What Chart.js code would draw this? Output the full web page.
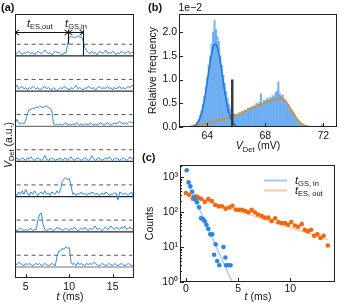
<!DOCTYPE html>
<html><head><meta charset="utf-8">
<script src="https://cdn.jsdelivr.net/npm/chart.js@4.4.1/dist/chart.umd.min.js"></script>
<style>
html,body{margin:0;padding:0;background:#fff;}
#wrap{position:relative;width:339px;height:304px;overflow:hidden;background:#fff;}
canvas{position:absolute;left:0;top:0;}
</style></head><body>
<div id="wrap">
<canvas id="ca" width="339" height="304"></canvas>
<canvas id="cb" width="339" height="304"></canvas>
<canvas id="cc" width="339" height="304"></canvas>
</div>
<script>
// ================= DATA =================
// (a) single-shot traces, V_Det (a.u.) relative to each trace baseline; threshold level = 1
const traceTimes = [3.8,4.0,4.2,4.4,4.6,4.8,5.0,5.2,5.4,5.6,5.8,6.0,6.2,6.4,6.6,6.8,7.0,7.2,7.4,7.6,7.8,8.0,8.2,8.4,8.6,8.8,9.0,9.2,9.4,9.6,9.8,10.0,10.2,10.4,10.6,10.8,11.0,11.2,11.4,11.6,11.8,12.0,12.2,12.4,12.6,12.8,13.0,13.2,13.4,13.6,13.8,14.0,14.2,14.4,14.6,14.8,15.0,15.2,15.4,15.6,15.8,16.0,16.2,16.4,16.6,16.8,17.0,17.2,17.4];
const trace1 = [0.3,0.2,0.4,0.3,0.1,0.3,0.2,0.4,0.3,0.2, 0.3,0.1,0.2,0.4,0.3,0.2,0.3,0.5,0.3,0.2, 0.3,0.1,0.2,0.4,0.3,0.3,0.2,0.1,0.3,0.2, 0.9,
  1.6,1.65,1.6,1.55,1.62,1.7,1.6,1.65, 1.3,0.7,0.45,
  0.3,0.2,0.4,0.2,0.3,0.1,0.3,0.4,0.2,0.3, 0.5,0.2,0.3,0.2,0.4,0.3,0.1,0.3,0.2,0.4, 0.3,0.2,0.3,0.4,0.2,0.3,0.3];
const trace2 = [0.3,0.5,0.2,0.3,0.4,0.2,0.3,0.1,0.3,0.2, 0.4,0.3,0.2,0.3,0.1,0.2,0.3,0.4,0.2,0.3, 0.2,0.1,0.3,0.2,0.0,0.2,0.3,0.2,0.4,0.3,
  0.2,0.1,0.3,0.2,0.3,0.5,0.2,0.3,0.2,0.1, 0.3,0.2,0.4,0.3,0.2,0.3,0.1,0.2,0.4,0.3, 0.2,0.3,0.2,0.4,0.2,0.3,0.1,0.3,0.2,0.3, 0.4,0.2,0.3,0.2,0.3,0.4,0.3,0.5,0.4];
const trace3 = [0.3,0.6,0.3,0.2,0.3,0.2,0.5,1.1,1.4,1.45,1.55,1.5,1.65,1.6,1.7,1.65,1.6,1.7,1.75,1.6,1.55,1.35,0.2,0.1,
  0.2,0.1,0.2,0.1,0.2,0.3,0.1,0.2,0.1,0.2, 0.1,0.3,0.2,0.1,0.2,0.1,0.2,0.2,0.1,0.3, 0.2,0.1,0.2,0.1,0.2,0.3,0.2,0.1,0.2,0.3,
  0.2,0.1,0.2,0.3,0.2,0.3,0.4,0.3,0.2,0.3, 0.2,0.3,0.4,0.3,0.3];
const trace4 = [0.2,0.3,0.1,0.2,0.3,0.2,0.1,0.3,0.2,0.4, 0.2,0.1,0.2,0.3,0.2,0.1,0.2,0.5,0.2,0.1, 0.2,0.3,0.2,0.1,0.2,0.2,0.3,0.1,0.2,0.3,
  0.1,0.2,0.4,0.2,0.1,0.2,0.3,0.2,0.1,0.2, 0.3,0.2,0.1,0.2,0.5,0.2,0.1,0.2,0.3,0.2, 0.1,0.2,0.3,0.2,0.4,0.2,0.1,0.2,0.3,0.2, 0.1,0.2,0.3,0.2,0.1,0.2,0.4,0.2,0.3];
const trace5 = [0.3,0.1,0.4,0.2,0.5,0.2,0.6,0.3,0.1,0.4, 0.2,0.5,0.3,0.1,0.3,0.4,0.2,0.5,0.2,0.3, 0.1,0.4,0.3,0.2,0.5,0.3,
  0.6,1.3,1.5,1.6,1.45,1.55,1.0,0.2,
  0.3,0.1,0.3,0.2,0.4,0.2,0.3,0.1,0.3,0.2, 0.4,0.3,0.2,0.3,0.1,0.2,0.3,0.2,0.4,0.3, 0.1,0.2,0.2,0.3,0.3,-0.3,0.4,0.3,0.2,0.3, 0.2,0.1,0.3,0.4,-0.2];
const trace6 = [0.2,0.1,0.2,0.3,0.2,0.1,0.2,0.1,0.2,0.3,0.1,0.2,0.2,
  1.0,1.5,1.6,0.6,0.2,
  0.1,0.2,0.3,0.2,0.1,0.2,0.4,0.2,0.3,0.1, 0.2,0.3,0.2,0.1,0.3,0.2,0.4,0.2,0.1,0.2, 0.3,0.2,0.4,0.2,0.1,0.3,0.2,0.3,0.5,0.2,
  0.3,0.2,0.1,0.3,0.4,0.2,0.3,0.5,0.3,0.2, 0.4,0.3,0.2,0.4,0.3,0.5,0.2,0.3,0.4,0.2, 0.3];
const trace7 = [0.3,0.2,0.4,0.3,0.2,0.1,0.3,0.2,0.3,0.2,0.1,0.2,0.3,0.2,0.3,0.1,0.2,0.3,0.2,0.1,0.2,0.3,0.2,0.1,
  0.9,1.35,1.4,1.6,1.5,1.7,1.6,1.65,0.5,
  0.2,0.3,0.1,0.4,0.2,0.3,0.2,0.1,0.3,0.2, 0.3,0.2,0.4,0.3,0.2,0.1,0.2,0.3,0.2,0.1, 0.2,0.3,0.2,0.1,0.3,0.2,0.1,0.2,0.3,0.2, 0.1,0.2,0.3,0.2,0.1,0.2];
const traceTicksX = [5,10,15];
const esOutMarkT = 9.9;   // end of t_ES,out arrow
const gsInMarkT = 11.6;   // end of t_GS,in arrow

// (b) histogram of V_Det (relative frequency, x1e-2)
const histStart = 62.9, histBinWidth = 0.1;
const histFreq = [0.01,0.02,0.03,0.05,0.1,0.16,0.24,0.35,0.48,0.65, 0.85,1.05,1.3,1.5,1.75,2.0,2.25,2.05,1.9,1.8,
  1.5,1.3,1.1,0.92,0.75,0.6,0.48,0.38,0.32,0.28, 0.27,0.27,0.24,0.3,0.28,0.33,0.3,0.36,0.33,0.4,
  0.38,0.42,0.4,0.45,0.43,0.5,0.47,0.52,0.7,0.5, 0.56,0.55,0.6,0.57,0.62,0.6,0.66,0.63,0.72,0.75,
  0.95,0.7,0.65,0.68,0.58,0.55,0.5,0.45,0.4,0.36, 0.3,0.26,0.2,0.16,0.12,0.09,0.07,0.05,0.04,0.03,
  0.02,0.02,0.01,0.02,0.01,0.01,0.02,0.01,0.0,0.01, 0.05,0.01];
const groundFitV = [63.1,63.2,63.3,63.4,63.5,63.6,63.7,63.8,63.9,64.0,64.1,64.2,64.3,64.4,64.5,64.6,64.7,64.8,64.9,65.0,65.1,65.2,65.3,65.4,65.5,65.6,65.7,65.8,65.9,66.0];
const groundFitF = [0.026,0.046,0.077,0.12,0.19,0.29,0.41,0.57,0.75,0.96,1.17,1.37,1.54,1.67,1.74,1.74,1.67,1.54,1.37,1.17,0.96,0.75,0.57,0.41,0.29,0.19,0.12,0.077,0.046,0.026];
const excitedFitV = [62.8,63.2,63.6,64.0,64.4,64.8,65.2,65.6,66.0,66.4,66.8,67.2,67.6,68.0,68.4,68.7,69.0,69.2,69.4,69.6,69.8,70.0,70.2,70.4,70.6,70.8,71.0,71.2];
const excitedFitF = [0.01,0.03,0.05,0.08,0.11,0.14,0.17,0.21,0.25,0.3,0.36,0.42,0.47,0.52,0.56,0.59,0.61,0.6,0.55,0.46,0.36,0.26,0.17,0.1,0.05,0.02,0.01,0.0];
const thresholdV = 65.72, thresholdTop = 1.0;
const histTicksX = [64,68,72];
const histTicksY = [0,0.5,1.0,1.5,2.0];

// (c) tunnelling-time histograms (counts)
const gsInT = [0.07,0.25,0.42,0.6,0.75,0.9,1.07,1.26,1.45,1.63,1.8,1.97,2.14,2.33,2.52,2.7,2.85,3.0,3.2,3.6,3.78,3.85,4.05,4.28];
const gsInCounts = [1550,700,540,380,263,224,190,136,66,63,54,43,33,23,23,6,12,4,3,10,5,3,3,3];
const esOutT = [0,0.31,0.65,0.95,1.2,1.45,1.8,2.15,2.48,2.8, 3.14,3.46,3.8,4.15,4.46,4.8,5.1,5.4,5.7,6.0,
  6.3,6.6,6.9,7.25,7.55,7.9,8.2,8.55,8.87,9.18, 9.5,9.8,10.1,10.44,10.75,11.1,11.4,11.7,12.0,12.3, 12.6,12.9,13.2,13.6];
const esOutCounts = [347,309,240,282,257,240,195,234,204,158, 145,145,123,135,151,117,115,115,107,98,
  115,98,85,78,69,69,55,66,51,48, 48,43,52,41,38,45,31,28,31,21, 23,18,21,11];
const gsInFitT = [0.35,4.5], gsInFitC = [500,0.9];
const esOutFitT = [0.5,13.65], esOutFitC = [290,16];
const countTicksX = [0,5,10];
const countTicksY = [1,10,100,1000];
const countMinorY = [2,3,4,5,6,7,8,9,20,30,40,50,60,70,80,90,200,300,400,500,600,700,800,900,2000];

// ================= STYLE / HELPERS =================
const F = '"Liberation Sans", Arial, Helvetica, sans-serif';
Chart.defaults.font.family = F;
Chart.defaults.color = '#111';
Chart.defaults.animation = false;
Chart.defaults.events = [];
Chart.defaults.plugins.legend.display = false;
Chart.defaults.plugins.tooltip.enabled = false;

function rich(ctx, parts, x, y, align, rot){
  ctx.save(); ctx.translate(x,y); if(rot) ctx.rotate(rot);
  ctx.textBaseline='alphabetic'; ctx.textAlign='left';
  let w=0; parts.forEach(p=>{ctx.font=p.f; p.w=ctx.measureText(p.t).width; w+=p.w;});
  let cx = align==='center' ? -w/2 : (align==='right' ? -w : 0);
  parts.forEach(p=>{ctx.font=p.f; ctx.fillStyle=p.c||'#111'; ctx.fillText(p.t,cx,p.dy||0); cx+=p.w;});
  ctx.restore();
}
function frame(chart, xMajor, yMajor, yMinor){
  const {ctx, chartArea:a, scales}=chart;
  ctx.save(); ctx.strokeStyle='#222'; ctx.lineWidth=1;
  ctx.strokeRect(a.left+0.5,a.top+0.5,a.right-a.left-1,a.bottom-a.top-1);
  ctx.beginPath();
  (xMajor||[]).forEach(v=>{const p=Math.round(scales.x.getPixelForValue(v))+0.5; ctx.moveTo(p,a.bottom); ctx.lineTo(p,a.bottom-4);});
  (yMajor||[]).forEach(v=>{const p=Math.round(scales.y.getPixelForValue(v))+0.5; ctx.moveTo(a.left,p); ctx.lineTo(a.left+4,p);});
  (yMinor||[]).forEach(v=>{const p=Math.round(scales.y.getPixelForValue(v))+0.5; ctx.moveTo(a.left,p); ctx.lineTo(a.left+2,p);});
  ctx.stroke(); ctx.restore();
}
const it = s => `italic ${s}px ${F}`, rm = s => `${s}px ${F}`, bd = s => `bold ${s}px ${F}`;
const noGrid = {display:false, drawTicks:false, tickLength:0};

// ================= PANEL (a) =================
const aMin = 3.77, aMax = 17.45;
const traces = [trace1,trace2,trace3,trace4,trace5,trace6,trace7];
const baseCol = ['#222','#333','#777','#333','#222','#222','#777'];
const dsA = [];
traces.forEach((tr,k)=>{
  const off = -3*k;
  dsA.push({data:tr.map((v,i)=>({x:traceTimes[i], y:v+off})), borderColor:'#2f8ae8', borderWidth:1, pointRadius:0, order:0});
  dsA.push({data:[{x:aMin,y:off},{x:aMax,y:off}], borderColor:baseCol[k], borderWidth:1.2, pointRadius:0, order:1});
  dsA.push({data:[{x:3.95,y:off+1},{x:17.25,y:off+1}], borderColor:'#555', borderDash:[4,3.5], borderWidth:1, pointRadius:0, order:2});
});
const plugA = {id:'plugA', afterDraw(chart){
  const {ctx, chartArea:a, scales:{x,y}} = chart;
  frame(chart, traceTicksX, [], []);
  const ya = Math.round(y.getPixelForValue(2.05))+0.5;
  const xs = a.left, xm = Math.round(x.getPixelForValue(esOutMarkT))+0.5, xe = Math.round(x.getPixelForValue(gsInMarkT))+0.5;
  ctx.save(); ctx.strokeStyle='#111'; ctx.lineWidth=1; ctx.beginPath();
  ctx.moveTo(xs,ya); ctx.lineTo(xe,ya);
  [[xs,1],[xm,-1],[xm,1],[xe,-1]].forEach(([px,d])=>{ctx.moveTo(px+4*d,ya-2.5); ctx.lineTo(px,ya); ctx.lineTo(px+4*d,ya+2.5);});
  ctx.moveTo(xm,ya-3); ctx.lineTo(xm, y.getPixelForValue(1));
  ctx.moveTo(xe,ya-3); ctx.lineTo(xe, y.getPixelForValue(0));
  ctx.stroke(); ctx.restore();
  rich(ctx,[{t:'t',f:it(11)},{t:'ES,out',f:rm(7.5),dy:2.5}],(xs+xm)/2-2,ya-6,'center');
  rich(ctx,[{t:'t',f:it(11)},{t:'GS,in',f:rm(7.5),dy:2.5}],(xm+xe)/2,ya-6,'center');
  rich(ctx,[{t:'t',f:it(10.5)},{t:' (ms)',f:rm(10.5)}],70,300,'center');
  rich(ctx,[{t:'V',f:it(10.5)},{t:'Det',f:rm(7.5),dy:2.5},{t:' (a.u.)',f:rm(10.5)}],11.7,145,'center',-Math.PI/2);
  rich(ctx,[{t:'(a)',f:bd(11)}],1,10.5,'left');
}};
new Chart(document.getElementById('ca'),{
  type:'line',
  data:{datasets:dsA},
  options:{responsive:false, devicePixelRatio:1, maintainAspectRatio:false,
    layout:{padding:{left:15,top:14,right:205,bottom:0}},
    elements:{line:{tension:0}},
    scales:{
      x:{type:'linear',min:aMin,max:aMax,
        afterBuildTicks:s=>{s.ticks=traceTicksX.map(v=>({value:v}));},
        afterFit:s=>{s.height=26;},
        grid:noGrid, border:{display:false},
        ticks:{font:{size:10.5},padding:3,color:'#111',maxRotation:0}},
      y:{type:'linear',min:-18.94,max:3.58,display:false}
    }},
  plugins:[plugA]
});

// ================= PANEL (b) =================
const histData = histFreq.map((v,i)=>({x:histStart+i*histBinWidth, y:v}));
const plugB = {id:'plugB', afterDraw(chart){
  const {ctx} = chart;
  frame(chart, histTicksX, histTicksY, []);
  rich(ctx,[{t:'V',f:it(10.5)},{t:'Det',f:rm(7.5),dy:2.5},{t:' (mV)',f:rm(10.5)}],258,149,'center');
  rich(ctx,[{t:'1e\u22122',f:rm(10.5)}],178.5,10.5,'left');
  rich(ctx,[{t:'(b)',f:bd(11)}],148,10.5,'left');
}};
new Chart(document.getElementById('cb'),{
  type:'bar',
  data:{datasets:[
    {type:'line',data:[{x:thresholdV,y:0},{x:thresholdV,y:thresholdTop}],borderColor:'#3a3a3a',borderWidth:2.5,pointRadius:0,order:0},
    {type:'line',data:groundFitV.map((v,i)=>({x:v,y:groundFitF[i]})),borderColor:'#1f76dc',borderWidth:1.5,pointRadius:0,tension:0.3,order:1},
    {type:'line',data:excitedFitV.map((v,i)=>({x:v,y:excitedFitF[i]})),borderColor:'#e08a24',borderWidth:1.5,pointRadius:0,cubicInterpolationMode:'monotone',order:1},
    {type:'bar',data:histData,backgroundColor:'rgba(96,166,240,0.85)',borderWidth:0,barPercentage:1,categoryPercentage:1,order:3}
  ]},
  options:{responsive:false, devicePixelRatio:1, maintainAspectRatio:false,
    layout:{padding:{left:147,top:14,right:2,bottom:157}},
    scales:{
      x:{type:'linear',min:62.05,max:72.94,offset:false,
        afterBuildTicks:s=>{s.ticks=histTicksX.map(v=>({value:v}));},
        afterFit:s=>{s.height=20;},
        grid:noGrid, border:{display:false},
        ticks:{font:{size:10.5},padding:3,color:'#111',maxRotation:0}},
      y:{type:'linear',min:0,max:2.38,
        afterBuildTicks:s=>{s.ticks=histTicksY.map(v=>({value:v}));},
        afterFit:s=>{s.width=32;},
        grid:noGrid, border:{display:false},
        ticks:{font:{size:10.5},padding:2,color:'#111',callback:v=>v.toFixed(1)},
        title:{display:true,text:'Relative frequency',font:{size:10.5},padding:0,color:'#111'}}
    }},
  plugins:[plugB]
});

// ================= PANEL (c) =================
const sup = {1:'\u2070',10:'\u00b9',100:'\u00b2',1000:'\u00b3'};
const plugC = {id:'plugC', afterDraw(chart){
  const {ctx} = chart;
  frame(chart, countTicksX, countTicksY, countMinorY);
  ctx.save(); ctx.lineWidth=2;
  ctx.strokeStyle='#a9cbf0'; ctx.beginPath(); ctx.moveTo(264,180.5); ctx.lineTo(287,180.5); ctx.stroke();
  ctx.strokeStyle='#f7c9a0'; ctx.beginPath(); ctx.moveTo(264,190.5); ctx.lineTo(287,190.5); ctx.stroke();
  ctx.restore();
  rich(ctx,[{t:'t',f:it(11)},{t:'GS, in',f:rm(7.5),dy:2.5}],295,183.5,'left');
  rich(ctx,[{t:'t',f:it(11)},{t:'ES, out',f:rm(7.5),dy:2.5}],295,193.5,'left');
  rich(ctx,[{t:'t',f:it(10.5)},{t:' (ms)',f:rm(10.5)}],258,300,'center');
  rich(ctx,[{t:'(c)',f:bd(11)}],142,161,'left');
}};
new Chart(document.getElementById('cc'),{
  type:'scatter',
  data:{datasets:[
    {data:gsInT.map((t,i)=>({x:t,y:gsInCounts[i]})),backgroundColor:'#2b86e8',borderWidth:0,pointRadius:2.3,order:0},
    {data:esOutT.map((t,i)=>({x:t,y:esOutCounts[i]})),backgroundColor:'#f4670f',borderWidth:0,pointRadius:2.3,order:0},
    {data:gsInFitT.map((t,i)=>({x:t,y:gsInFitC[i]})),showLine:true,borderColor:'#a9cbf0',borderWidth:1.5,pointRadius:0,order:2},
    {data:esOutFitT.map((t,i)=>({x:t,y:esOutFitC[i]})),showLine:true,borderColor:'#f7c9a0',borderWidth:1.5,pointRadius:0,order:2}
  ]},
  options:{responsive:false, devicePixelRatio:1, maintainAspectRatio:false,
    layout:{padding:{left:144,top:165,right:2,bottom:2}},
    scales:{
      x:{type:'linear',min:-0.57,max:14.29,
        afterBuildTicks:s=>{s.ticks=countTicksX.map(v=>({value:v}));},
        afterFit:s=>{s.height=20;},
        grid:noGrid, border:{display:false},
        ticks:{font:{size:10.5},padding:1,color:'#111',maxRotation:0}},
      y:{type:'logarithmic',min:1,max:2200,
        afterBuildTicks:s=>{s.ticks=countTicksY.map(v=>({value:v}));},
        afterFit:s=>{s.width=36;},
        grid:noGrid, border:{display:false},
        ticks:{font:{size:10.5},padding:2,color:'#111',callback:v=>'10'+(sup[v]||'')},
        title:{display:true,text:'Counts',font:{size:10.5},padding:0,color:'#111'}}
    }},
  plugins:[plugC]
});
</script>
</body></html>
